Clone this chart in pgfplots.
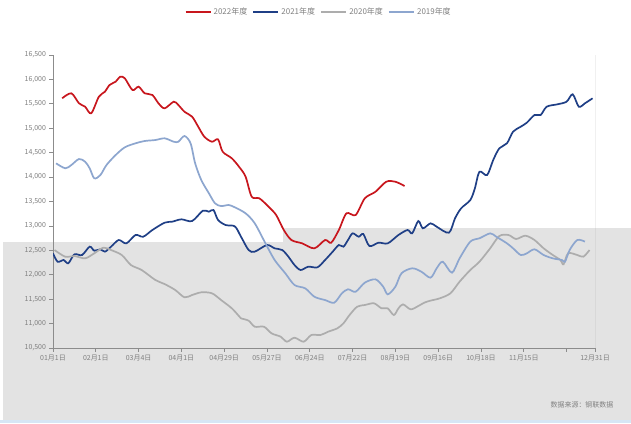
\documentclass[border=0pt]{standalone}
\usepackage{fontspec}
\setmainfont{Noto Sans CJK SC}
\usepackage{pgfplots}
\pgfplotsset{compat=1.18}
\definecolor{c22}{HTML}{C8161D}
\definecolor{c21}{HTML}{1F3F86}
\definecolor{c20}{HTML}{ADADAD}
\definecolor{c19}{HTML}{8DA6CF}
\definecolor{txt}{HTML}{808080}
\definecolor{axc}{HTML}{8C8C8C}
\definecolor{bggray}{HTML}{E3E3E3}
\definecolor{edge}{HTML}{D6E6F5}
\begin{document}
\begin{tikzpicture}[x=1bp,y=1bp]
\path[use as bounding box] (0,0) rectangle (631,423);
\fill[white] (0,0) rectangle (631,423);
\fill[bggray] (3,3) rectangle (283,181);
\fill[bggray] (283,3) rectangle (631,195);
\fill[edge] (0,0) rectangle (631,3);
\node[font=\fontsize{7}{8}\selectfont, text=txt, anchor=center] at (582,18) {数据来源：钢联数据};
\begin{axis}[
  at={(53bp,75bp)}, anchor=south west,
  scale only axis, width=542bp, height=293bp,
  xmin=0, xmax=354.6, ymin=10500, ymax=16500,
  axis lines=left, axis line style={-, draw=axc, line width=0.7pt},
  tick align=outside, major tick length=3.5bp,
  tick style={draw=axc, line width=0.7pt},
  scaled y ticks=false,
  ytick={10500,11000,11500,12000,12500,13000,13500,14000,14500,15000,15500,16000,16500},
  xtick={0,28,56,84,112,140,168,196,224,252,280,308,336,354.6},
  xticklabels={01月1日,02月1日,03月4日,04月1日,04月29日,05月27日,06月24日,07月22日,08月19日,09月16日,10月18日,11月15日,{},12月31日},
  yticklabel style={/pgf/number format/.cd, 1000 sep={,}, assume math mode=true},
  ticklabel style={font=\fontsize{7}{8}\selectfont, text=txt},
  legend columns=4,
  legend style={at={(0.49,1)}, anchor=center, yshift=43bp, draw=none, fill=none,
    font=\fontsize{8}{9}\selectfont, text=txt,
    /tikz/every even column/.append style={column sep=3bp}},
  legend image code/.code={\draw[#1, line width=2.2pt] (0bp,0bp) -- (25bp,0bp);},
  every axis plot/.append style={line width=1.7bp, smooth, tension=0.5, no marks},
]
\addplot[c22] coordinates {
(6,15613) (12,15716) (17,15511) (21,15441) (25,15306) (30,15646) (34,15749) (37,15886)
(41,15954) (44,16056) (47,16022) (52,15783) (56,15851) (60,15716) (65,15681) (69,15511)
(73,15408) (79,15544) (82,15476) (86,15339) (91,15237) (95,15032) (99,14827) (104,14724)
(108,14773) (111,14520) (117,14384) (122,14200) (126,14008) (130,13598) (135,13565)
(141,13394) (146,13223) (151,12916) (156,12711) (163,12643) (171,12541) (178,12711)
(182,12657) (187,12916) (192,13258) (198,13223) (204,13565) (211,13700) (218,13905)
(224,13905) (230,13817)};
\addlegendentry{2022年度}
\addplot[c21] coordinates {
(0,12439) (3,12267) (7,12302) (10,12234) (14,12418) (19,12404) (24,12575) (27,12493)
(31,12521) (34,12473) (38,12575) (43,12711) (48,12643) (54,12814) (59,12779) (65,12916)
(73,13066) (78,13087) (84,13135) (91,13100) (98,13311) (102,13291) (105,13326) (108,13121)
(113,13018) (119,12990) (123,12779) (128,12506) (132,12473) (140,12609) (145,12541)
(150,12506) (154,12370) (158,12199) (162,12097) (167,12165) (173,12152) (178,12302)
(183,12473) (187,12609) (190,12575) (193,12711) (196,12848) (200,12779) (203,12834)
(207,12588) (213,12657) (219,12643) (226,12814) (232,12916) (235,12848) (239,13100)
(242,12951) (247,13053) (251,12984) (259,12861) (263,13155) (267,13360) (273,13530)
(276,13769) (279,14110) (284,14042) (288,14350) (292,14589) (297,14692) (301,14930)
(306,15032) (310,15114) (315,15271) (319,15271) (323,15441) (330,15490) (336,15544)
(340,15695) (344,15441) (348,15511) (353,15613)};
\addlegendentry{2021年度}
\addplot[c20] coordinates {
(1,12506) (8,12370) (14,12384) (21,12336) (27,12439) (33,12555) (38,12506) (45,12404)
(51,12199) (58,12097) (67,11892) (73,11810) (80,11687) (86,11538) (91,11585) (97,11640)
(104,11620) (110,11482) (117,11312) (122,11141) (123,11107) (128,11059) (132,10936)
(138,10936) (143,10800) (149,10731) (153,10629) (158,10711) (164,10629) (169,10766)
(175,10766) (180,10834) (186,10903) (190,11005) (194,11175) (199,11346) (204,11380)
(210,11415) (215,11312) (219,11312) (223,11175) (226,11312) (229,11394) (234,11292)
(239,11360) (243,11430) (247,11470) (253,11517) (260,11620) (266,11858) (273,12097)
(279,12267) (286,12541) (292,12793) (298,12814) (303,12732) (309,12800) (315,12711)
(321,12541) (327,12404) (332,12302) (334,12213) (337,12439) (343,12404) (347,12370)
(351,12506)};
\addlegendentry{2020年度}
\addplot[c19] coordinates {
(2,14282) (8,14180) (12,14247) (17,14370) (21,14315) (24,14180) (27,13975) (31,14042)
(35,14247) (41,14452) (47,14610) (54,14692) (60,14739) (67,14759) (73,14794) (79,14724)
(82,14724) (86,14841) (90,14692) (93,14282) (97,13940) (102,13668) (106,13463)
(110,13407) (115,13428) (119,13380) (126,13258) (132,13053) (139,12643) (145,12302)
(152,12029) (158,11790) (165,11722) (171,11550) (178,11482) (184,11428) (189,11620)
(193,11702) (198,11653) (204,11838) (211,11906) (216,11756) (219,11599) (224,11756)
(228,12029) (235,12132) (241,12063) (247,11940) (251,12132) (255,12267) (261,12043)
(266,12336) (273,12678) (279,12746) (286,12848) (290,12779) (297,12643) (301,12541)
(306,12404) (310,12439) (315,12521) (321,12404) (327,12336) (333,12302) (335,12267)
(338,12506) (343,12711) (348,12678)};
\addlegendentry{2019年度}
\draw[axc, line width=0.7pt] (rel axis cs:1,0) -- (rel axis cs:1,1);
\end{axis}
\end{tikzpicture}
\end{document}
